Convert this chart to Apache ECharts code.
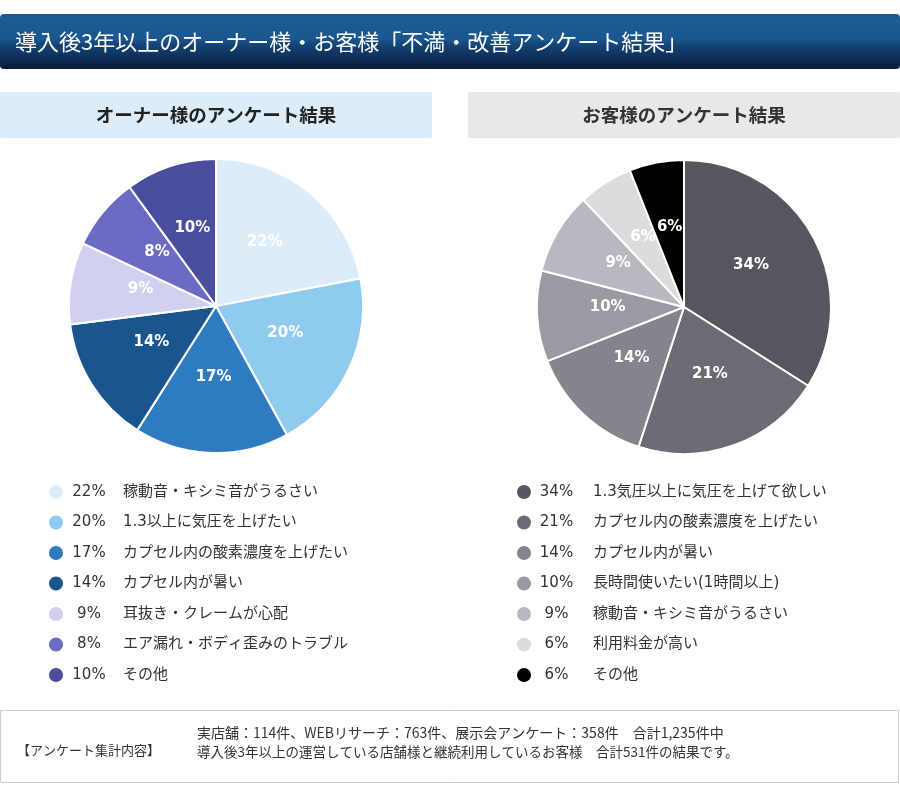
<!DOCTYPE html>
<html>
<head>
<meta charset="utf-8">
<script src="https://cdn.jsdelivr.net/npm/echarts@6/dist/echarts.min.js"></script>
<style>
html,body{margin:0;padding:0;background:#fff;}
#chart{width:900px;height:805px;}
</style>
</head>
<body>
<div id="chart"></div>
<script>
var mainTitle = '導入後3年以上のオーナー様・お客様「不満・改善アンケート結果」';
var ownerTitle = 'オーナー様のアンケート結果';
var customerTitle = 'お客様のアンケート結果';

var ownerLabels = ['稼動音・キシミ音がうるさい','1.3以上に気圧を上げたい','カプセル内の酸素濃度を上げたい','カプセル内が暑い','耳抜き・クレームが心配','エア漏れ・ボディ歪みのトラブル','その他'];
var ownerValues = [22, 20, 17, 14, 9, 8, 10];
var ownerColors = ['#dcedf9','#8fcbee','#2f7bbf','#1a5590','#d1d1ef','#6b6bc3','#4a4c9e'];

var customerLabels = ['1.3気圧以上に気圧を上げて欲しい','カプセル内の酸素濃度を上げたい','カプセル内が暑い','長時間使いたい(1時間以上)','稼動音・キシミ音がうるさい','利用料金が高い','その他'];
var customerValues = [34, 21, 14, 10, 9, 6, 6];
var customerColors = ['#56565e','#6c6b73','#85848c','#9b9aa3','#b9b8c0','#dcdcdc','#000000'];

var footerLabel = '【アンケート集計内容】';
var footerLines = ['実店舗：114件、WEBリサーチ：763件、展示会アンケート：358件　合計1,235件中','導入後3年以上の運営している店舗様と継続利用しているお客様　合計531件の結果です。'];

var JP = "'Noto Sans CJK JP', sans-serif";
var MIX = "'DejaVu Sans', 'Noto Sans CJK JP', sans-serif";

function buildData(prefix, labels, values, colors) {
  return labels.map(function (l, i) {
    return { name: prefix + i, value: values[i], itemStyle: { color: colors[i] } };
  });
}
var ownerData = buildData('o', ownerLabels, ownerValues, ownerColors);
var customerData = buildData('c', customerLabels, customerValues, customerColors);

function legendFormatter(name) {
  var isOwner = name.charAt(0) === 'o';
  var i = parseInt(name.slice(1), 10);
  var v = isOwner ? ownerValues[i] : customerValues[i];
  var l = isOwner ? ownerLabels[i] : customerLabels[i];
  return '{p|' + v + '%}{n|' + l + '}';
}
function legendCfg(data, left, pw, gap) {
  return {
    data: data.map(function (d) { return d.name; }),
    orient: 'vertical',
    left: left,
    top: 483,
    padding: 0,
    icon: 'circle',
    itemWidth: 16,
    itemHeight: 16,
    itemGap: 12.5,
    selectedMode: false,
    formatter: legendFormatter,
    textStyle: {
      color: '#333',
      rich: {
        p: { width: pw, align: 'right', fontSize: 15, fontFamily: MIX, color: '#333', lineHeight: 16 },
        n: { padding: [0, 0, 0, gap], fontSize: 15, fontFamily: MIX, color: '#333', lineHeight: 16 }
      }
    }
  };
}

function pieCfg(data, center) {
  return {
    type: 'pie',
    center: center,
    radius: 147,
    startAngle: 90,
    clockwise: true,
    animation: false,
    data: data,
    itemStyle: { borderColor: '#fff', borderWidth: 2 },
    label: {
      show: true,
      position: 'inside',
      formatter: '{c}%',
      color: '#fff',
      fontWeight: 'bold',
      fontSize: 15,
      offset: [0, -5],
      fontFamily: "'DejaVu Sans', sans-serif"
    },
    labelLine: { show: false },
    emphasis: { disabled: true }
  };
}

var chart = echarts.init(document.getElementById('chart'), null, { renderer: 'canvas' });
chart.setOption({
  backgroundColor: '#fff',
  animation: false,
  legend: [
    legendCfg(ownerData, 47, 40, 14),
    legendCfg(customerData, 515, 39, 17)
  ],
  series: [
    pieCfg(ownerData, [216, 306]),
    pieCfg(customerData, [684, 307])
  ],
  graphic: [
    { type: 'rect', shape: { x: 0, y: 14, width: 900, height: 55, r: 4 },
      style: { fill: new echarts.graphic.LinearGradient(0, 0, 0, 1, [
        { offset: 0, color: '#1e5c95' }, { offset: 0.45, color: '#1b578f' },
        { offset: 0.55, color: '#154679' }, { offset: 1, color: '#0a1a38' }]) } },
    { type: 'text', x: 15, y: 42,
      style: { text: mainTitle, fill: '#fff', fontSize: 22, fontFamily: JP, verticalAlign: 'middle', align: 'left' } },
    { type: 'rect', shape: { x: 0, y: 92, width: 432, height: 46, r: 2 }, style: { fill: '#dcedf9' } },
    { type: 'text', x: 216, y: 115,
      style: { text: ownerTitle, fill: '#222', fontSize: 18.5, fontWeight: 'bold', fontFamily: JP, align: 'center', verticalAlign: 'middle' } },
    { type: 'rect', shape: { x: 468, y: 92, width: 432, height: 46, r: 2 }, style: { fill: '#e8e8ea' } },
    { type: 'text', x: 684, y: 115,
      style: { text: customerTitle, fill: '#333', fontSize: 18.5, fontWeight: 'bold', fontFamily: JP, align: 'center', verticalAlign: 'middle' } },
    { type: 'rect', shape: { x: 0.5, y: 710.5, width: 898, height: 72 }, style: { fill: '#fff', stroke: '#cccccc', lineWidth: 1 } },
    { type: 'text', x: 17, y: 750,
      style: { text: footerLabel, fill: '#333', fontSize: 13, fontFamily: JP, verticalAlign: 'middle' } },
    { type: 'text', x: 197, y: 733,
      style: { text: footerLines[0], fill: '#333', fontSize: 14, fontFamily: JP, verticalAlign: 'middle' } },
    { type: 'text', x: 197, y: 752,
      style: { text: footerLines[1], fill: '#333', fontSize: 13.5, fontFamily: JP, verticalAlign: 'middle' } }
  ]
});
</script>
</body>
</html>
